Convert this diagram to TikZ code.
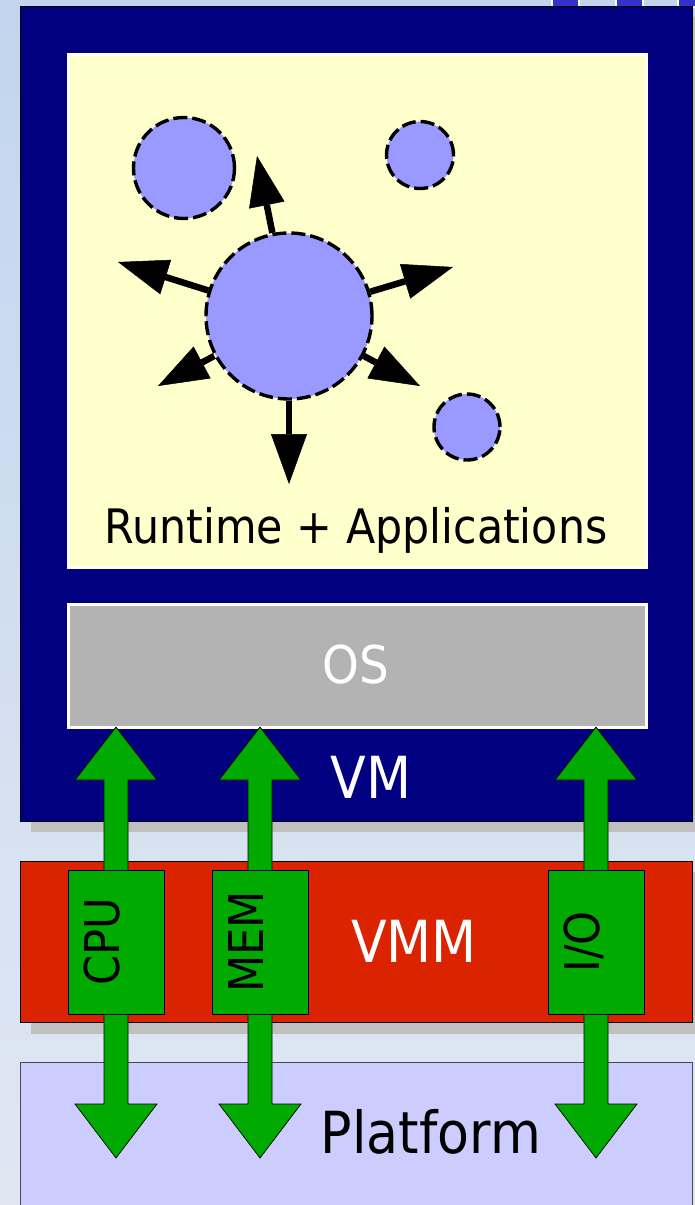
\documentclass[tikz,border=0pt]{standalone}
\usepackage{fontspec}
\setmainfont{DejaVu Sans}[FakeStretch=0.9]
\usepackage{tikz}
\usetikzlibrary{arrows.meta}
\usepackage{xcolor}

\definecolor{bgtop}{RGB}{194,213,238}
\definecolor{bgbot}{RGB}{224,231,243}
\definecolor{stripe}{RGB}{51,51,204}
\definecolor{vmblue}{HTML}{000080}
\definecolor{appyellow}{HTML}{FFFFCC}
\definecolor{osgray}{HTML}{B3B3B3}
\definecolor{blobfill}{HTML}{9999FF}
\definecolor{vmmred}{HTML}{DC2300}
\definecolor{chan}{HTML}{00AA00}
\definecolor{platblue}{HTML}{CCCCFF}
\definecolor{shadow}{HTML}{C0C0C0}

\tikzset{
  layer/.style={draw=black, line width=0.8pt, anchor=north west, inner sep=0pt},
  inset/.style={draw=white, line width=2.5pt, anchor=north west, inner sep=0pt},
  blob/.style={circle, inner sep=0pt, fill=blobfill, draw=black, line width=3.4pt, dash pattern=on 14pt off 5pt},
  fling/.style={line width=6.5pt, -{Triangle[length=50pt,width=36pt,line width=0.5pt]}},
  chanbox/.style={draw=black, line width=0.8pt, fill=chan, rotate=90, minimum width=144, minimum height=96,
    font=\fontsize{48}{50}\selectfont, text height=0.73em, text depth=0pt, inner sep=0pt},
  huge/.style={font=\fontsize{58}{60}\selectfont, anchor=base}
}

\begin{document}
\begin{tikzpicture}[x=1pt,y=-1pt]
  \useasboundingbox (0,0) rectangle (695,1205);
  \clip (0,0) rectangle (695,1205);
  \shade[top color=bgtop, bottom color=bgbot] (0,0) rectangle (695,1205);
  \foreach \x in {552,616,678}
    \filldraw[fill=stripe, draw=white, line width=1.2pt] (\x,-4) rectangle ++(27,11);

  % virtual machine
  \fill[shadow] (31,17) rectangle (706,832);
  \node[layer, fill=vmblue, minimum width=672, minimum height=815] (vm) at (20,6) {};
  \node[inset, fill=appyellow, minimum width=578, minimum height=513] (apps) at (67,53) {};
  \node[inset, fill=osgray, minimum width=578, minimum height=123] (os) at (67,603) {};
  \node[font=\fontsize{47.5}{50}\selectfont, anchor=base] (appslabel) at (356,543) {Runtime + Applications};
  \node[font=\fontsize{52}{54}\selectfont, anchor=base, white] (oslabel) at (356,683) {OS};
  \node[huge, white] (vmlabel) at (371,798) {VM};

  \node[blob, minimum size=166] (core) at (289,316) {};
  \node[blob, minimum size=101] (cellA) at (184,168) {};
  \node[blob, minimum size=67] (cellB) at (420,155) {};
  \node[blob, minimum size=66] (cellC) at (467,427) {};
  \coordinate (fly1) at (257,156);
  \coordinate (fly2) at (118,262);
  \coordinate (fly3) at (453,267);
  \coordinate (fly4) at (158,386);
  \coordinate (fly5) at (420,386);
  \coordinate (fly6) at (289,484);
  \foreach \k in {1,...,6}
    \draw[fling] (core) -- (fly\k);

  % monitor and hardware
  \fill[shadow] (31,872) rectangle (706,1034);
  \node[layer, fill=vmmred, minimum width=672, minimum height=161] (vmm) at (20,861) {};
  \node[layer, draw=black!70, fill=platblue, minimum width=672, minimum height=200] (platform) at (20,1062) {};
  \node[huge, white] (vmmlabel) at (414,962) {VMM};
  \node[huge] (platlabel) at (431,1153) {Platform};

  \foreach \x/\n/\l in {116/cpu/CPU, 260/mem/MEM, 596/io/{I/O}} {
    \filldraw[fill=chan, draw=black, line width=0.7pt]
      (\x,727) -- (\x+41,780) -- (\x+12,780) -- (\x+12,1104) -- (\x+41,1104) -- (\x,1158)
      -- (\x-41,1104) -- (\x-12,1104) -- (\x-12,780) -- (\x-41,780) -- cycle;
    \node[chanbox] (\n) at (\x,942) {\l};
  }
\end{tikzpicture}
\end{document}
